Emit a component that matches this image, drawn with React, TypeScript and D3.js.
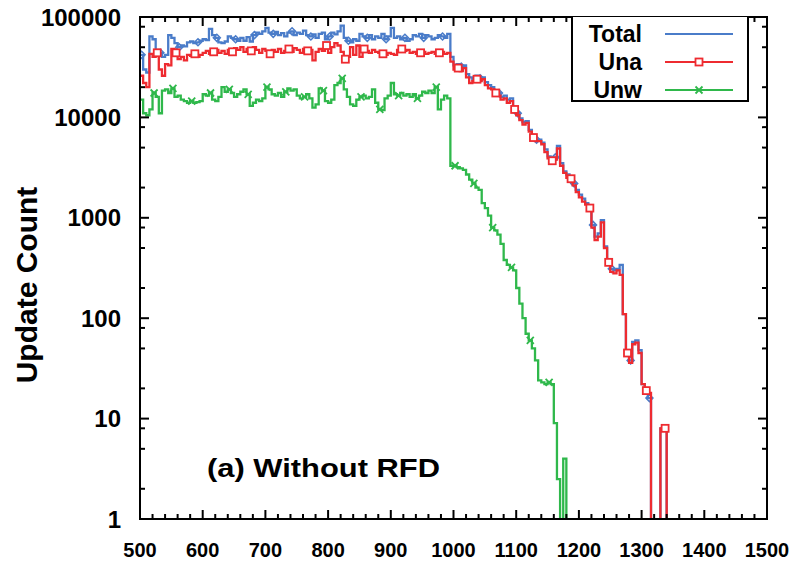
import React from 'react';
import * as d3 from 'd3';

// bin start of first value and bin width (x units)
const X_START = 500;
const X_STEP = 5;

const xTickValues = [500, 600, 700, 800, 900, 1000, 1100, 1200, 1300, 1400, 1500];
const yTickValues = [1, 10, 100, 1000, 10000, 100000];
const yTickLabels = ['1', '10', '100', '1000', '10000', '100000'];

const seriesNames = ['Total', 'Una', 'Unw'];

const totalValues = [
  42000, 30000, 28000, 64000, 60000, 47000, 44000, 40000, 42000, 66000,
  62000, 55000, 50000, 52000, 51000, 56000, 57000, 55000, 56000, 58000,
  60000, 59000, 76000, 66000, 62000, 56000, 55000, 57000, 64000, 62000,
  60000, 58000, 62000, 58000, 63000, 57000, 66000, 70000, 68000, 72000,
  78000, 70000, 68000, 71000, 66000, 69000, 64000, 70000, 72000, 66000,
  70000, 68000, 73000, 66000, 64000, 67000, 62000, 68000, 70000, 60000,
  64000, 70000, 67000, 72000, 82000, 62000, 58000, 56000, 60000, 58000,
  68000, 64000, 62000, 66000, 60000, 64000, 62000, 68000, 60000, 64000,
  78000, 62000, 64000, 60000, 62000, 58000, 60000, 66000, 64000, 68000,
  62000, 66000, 64000, 60000, 62000, 66000, 64000, 62000, 68000, 40000,
  33000, 34000, 32000, 33000, 27000, 25000, 24000, 26000, 24500, 25000,
  22500, 21000, 20000, 18500, 17500, 16000, 16500, 15000, 15500, 12500,
  11000, 9800, 9000, 9200, 7500, 6600, 6000, 6000, 5600, 4800,
  4100, 3900, 4000, 5200, 3500, 2900, 2700, 2600, 2200, 1900,
  1700, 1550, 1400, 1300, 850, 650, 700, 950, 520, 380,
  310, 300, 310, 340, 110, 47, 38, 58, 60, 48,
  22, 19, 16, 0, 0, 0, 8, 8, 0,
];

const unaValues = [
  26000, 22000, 20000, 43000, 40000, 44000, 30000, 26000, 34000, 33000,
  48000, 44000, 38000, 40000, 37000, 42000, 41000, 43000, 40000, 42000,
  44000, 46000, 43000, 45000, 47000, 44000, 46000, 43000, 47000, 45000,
  49000, 47000, 50000, 45000, 48000, 46000, 50000, 47000, 44000, 48000,
  46000, 43000, 47000, 45000, 48000, 44000, 46000, 48000, 45000, 49000,
  47000, 44000, 48000, 46000, 47000, 37000, 45000, 48000, 46000, 52000,
  44000, 50000, 55000, 52000, 45000, 38000, 40000, 50000, 42000, 52000,
  40000, 48000, 46000, 44000, 47000, 45000, 44000, 43000, 42000, 44000,
  43000, 42000, 47000, 48000, 46000, 47000, 44000, 45000, 43000, 44000,
  45000, 43000, 44000, 45000, 43000, 44000, 45000, 43000, 44000, 36000,
  30000, 31000, 29000, 31000, 25000, 22000, 23000, 24000, 23000, 24000,
  21000, 19500, 19000, 17500, 16500, 15000, 15500, 14000, 14500, 12000,
  10500, 9400, 8500, 8800, 7200, 6300, 5800, 5800, 5400, 4500,
  3900, 3700, 3800, 4900, 3300, 2800, 2500, 2450, 2100, 1800,
  1600, 1450, 1350, 1250, 800, 600, 650, 900, 500, 360,
  290, 280, 300, 270, 110, 45, 36, 55, 57, 45,
  22, 19, 18, 0, 0, 0, 8, 8, 0,
];

const unwValues = [
  15000, 11000, 10500, 12000, 17500, 16000, 11000, 18500, 19000, 17500,
  19500, 16000, 16500, 15000, 14500, 14000, 14500, 14000, 14200, 14500,
  17000, 16500, 17500, 15000, 14500, 16000, 20000, 18000, 19000, 17500,
  16000, 17000, 18000, 19000, 17000, 13000, 14000, 15000, 14500, 15500,
  20000, 19000, 17000, 16500, 17500, 16000, 18000, 19500, 18500, 19000,
  16500, 15500, 16000, 17000, 15500, 12500, 13500, 19500, 18500, 14500,
  14000, 15000, 21000, 22000, 24500, 19000, 16000, 13500, 13000, 15000,
  16000, 16500, 15500, 16000, 19000, 14000, 12000, 11800, 15500, 16500,
  22000, 17000, 16500, 17500, 16500, 17000, 16000, 17000, 15500, 16500,
  18000, 17500, 18500, 17500, 20000, 12000, 15000, 16500, 15500, 3300,
  3300, 3200, 3100, 3000, 2700, 2400, 2200, 2000, 1900, 1400,
  1250, 1050, 800, 750, 680, 550, 380, 340, 320, 300,
  200, 140, 100, 70, 60, 50, 38, 24, 23, 22,
  23, 22, 9, 2.5, 0, 4, 0,
];

const colors = { Total: '#4a7cc9', Una: '#ee2b30', Unw: '#2fb84b' };

const W = 790;
const H = 565;
const PL = 140, PR = 767, PT = 17, PB = 519;
const FONT = '"Liberation Sans", Arial, Helvetica, sans-serif';

export default function App() {
  const x = d3.scaleLinear().domain([500, 1500]).range([PL, PR]);
  const y = d3.scaleLog().domain([1, 100000]).range([PB, PT]);

  const stepPath = (vals: number[]) => {
    let p = '';
    let pen = false;
    vals.forEach((v, i) => {
      const xv = X_START + i * X_STEP;
      const x0 = x(xv);
      const x1 = x(xv + X_STEP);
      if (v == null) { pen = false; return; }
      if (v <= 0) {
        if (pen) p += `V${PB}`;
        pen = false;
        return;
      }
      const yv = y(v);
      if (!pen) {
        if (i > 0 && vals[i - 1] === 0) p += `M${x0},${PB}V${yv}`;
        else p += `M${x0},${yv}`;
      } else {
        p += `V${yv}`;
      }
      p += `H${x1}`;
      pen = true;
    });
    return p;
  };

  const markerPts = (vals: number[], offset: number) =>
    vals
      .map((v, i) => ({ v, i }))
      .filter((d) => d.v > 0 && (d.i - offset) % 6 === 0 && d.i >= offset)
      .map((d) => ({ cx: x(X_START + d.i * X_STEP + X_STEP / 2), cy: y(d.v) }));

  const diamond = (cx: number, cy: number, r: number) =>
    `M${cx},${cy - r}L${cx + r},${cy}L${cx},${cy + r}L${cx - r},${cy}Z`;
  const cross = (cx: number, cy: number, r: number) =>
    `M${cx - r},${cy - r}L${cx + r},${cy + r}M${cx - r},${cy + r}L${cx + r},${cy - r}`;

  const xMinor = d3.range(500, 1501, 20).filter((v) => v % 100 !== 0);
  const yMinor: number[] = [];
  [1, 10, 100, 1000, 10000].forEach((d) => [2, 5, 8].forEach((m) => yMinor.push(m * d)));

  const legendRows = [
    { name: seriesNames[0], y: 34 },
    { name: seriesNames[1], y: 62 },
    { name: seriesNames[2], y: 90 },
  ];

  return (
    <svg width={W} height={H} style={{ position: 'absolute', left: 0, top: 0, background: '#fff' }}
      fontFamily={FONT}>
      <defs>
        <clipPath id="plotclip">
          <rect x={PL} y={PT} width={PR - PL} height={PB - PT + 2} />
        </clipPath>
      </defs>
      <rect x={0} y={0} width={W} height={H} fill="#fff" />

      {/* series */}
      <g clipPath="url(#plotclip)" fill="none" strokeWidth={2.3}>
        <path d={stepPath(totalValues)} stroke={colors.Total} />
        {markerPts(totalValues, 0).map((m, k) => (
          <path key={'t' + k} d={diamond(m.cx, m.cy, 3.5)} stroke={colors.Total} strokeWidth={1.5} fill="none" />
        ))}
        <path d={stepPath(unaValues)} stroke={colors.Una} />
        {markerPts(unaValues, 5).map((m, k) => (
          <rect key={'u' + k} x={m.cx - 3.5} y={m.cy - 3.5} width={7} height={7} stroke={colors.Una} strokeWidth={1.8} fill="#fff" />
        ))}
        <path d={stepPath(unwValues)} stroke={colors.Unw} />
        {markerPts(unwValues, 4).map((m, k) => (
          <path key={'w' + k} d={cross(m.cx, m.cy, 3.5)} stroke={colors.Unw} strokeWidth={1.8} />
        ))}
      </g>

      {/* frame and ticks */}
      <g stroke="#000" strokeWidth={2} fill="none">
        <rect x={PL} y={PT} width={PR - PL} height={PB - PT} />
        {xTickValues.map((v) => (
          <g key={'xt' + v}>
            <line x1={x(v)} x2={x(v)} y1={PB} y2={PB - 9} />
            <line x1={x(v)} x2={x(v)} y1={PT} y2={PT + 9} />
          </g>
        ))}
        {xMinor.map((v) => (
          <g key={'xm' + v}>
            <line x1={x(v)} x2={x(v)} y1={PB} y2={PB - 5} />
            <line x1={x(v)} x2={x(v)} y1={PT} y2={PT + 5} />
          </g>
        ))}
        {yTickValues.map((v) => (
          <g key={'yt' + v}>
            <line x1={PL} x2={PL + 9} y1={y(v)} y2={y(v)} />
            <line x1={PR} x2={PR - 9} y1={y(v)} y2={y(v)} />
          </g>
        ))}
        {yMinor.map((v) => (
          <g key={'ym' + v}>
            <line x1={PL} x2={PL + 5} y1={y(v)} y2={y(v)} />
            <line x1={PR} x2={PR - 5} y1={y(v)} y2={y(v)} />
          </g>
        ))}
      </g>

      {/* tick labels */}
      <g fontWeight="bold" fill="#000">
        {yTickValues.map((v, k) => (
          <text key={'yl' + v} x={121} y={y(v)} dy="0.36em" textAnchor="end" fontSize={24}>
            {yTickLabels[k]}
          </text>
        ))}
        {xTickValues.map((v) => (
          <text key={'xl' + v} x={x(v)} y={557} textAnchor="middle" fontSize={20}>
            {String(v)}
          </text>
        ))}
      </g>

      {/* axis title */}
      <text transform={`translate(37,${285}) rotate(-90)`} textAnchor="middle" fontSize={30} fontWeight="bold">
        Update Count
      </text>

      {/* annotation */}
      <text x={207} y={477} fontSize={25} fontWeight="bold" textLength={233} lengthAdjust="spacingAndGlyphs">
        (a) Without RFD
      </text>

      {/* legend */}
      <g>
        <path d={`M572,${PT}V101H748V${PT}`} fill="#fff" stroke="#000" strokeWidth={2} />
        {legendRows.map((r) => (
          <g key={r.name}>
            <text x={642} y={r.y} dy="0.36em" textAnchor="end" fontSize={23} fontWeight="bold">
              {r.name}
            </text>
            <line x1={665} x2={733} y1={r.y} y2={r.y} stroke={colors[r.name as keyof typeof colors]} strokeWidth={2} />
          </g>
        ))}
        <rect x={695.5} y={62 - 3.5} width={7} height={7} stroke={colors.Una} strokeWidth={1.8} fill="#fff" />
        <path d={cross(699, 90, 3.5)} stroke={colors.Unw} strokeWidth={1.8} />
      </g>
    </svg>
  );
}
